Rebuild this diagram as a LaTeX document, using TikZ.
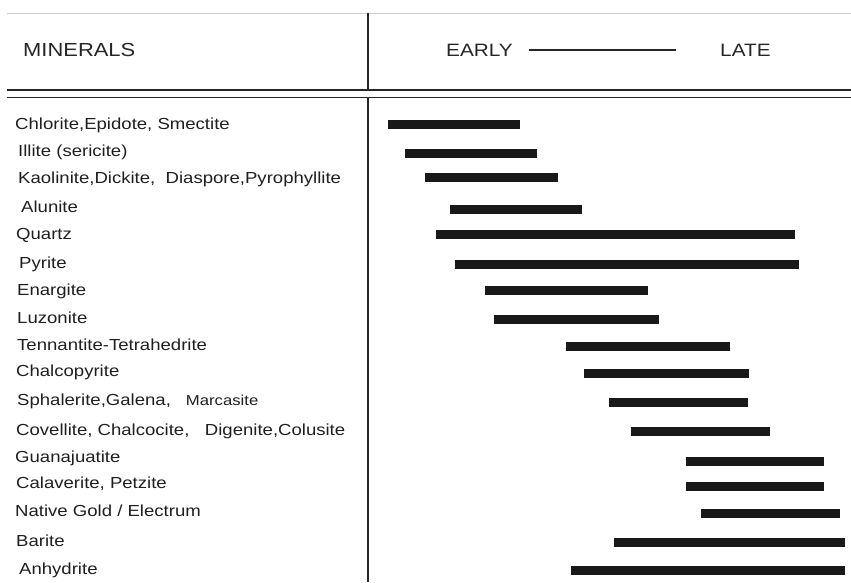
\documentclass[tikz,border=0pt]{standalone}
\usepackage{fontspec}
\setmainfont{Liberation Sans}[FakeStretch=1.16]
\begin{document}
\begin{tikzpicture}[x=1pt,y=-1pt,
  lbl/.style={anchor=base west,inner sep=0pt,font=\fontsize{16}{18}\selectfont,text=black!88},
  head/.style={anchor=base west,inner sep=0pt,font=\fontsize{17.9}{20}\selectfont,text=black!85},
  rule/.style={line width=1.8pt,black!85},
  bar/.style={fill=black!90}]
\useasboundingbox (0,0) rectangle (851,582);
\draw[black!20] (7,13)--(851,13);
\draw[rule] (368,13)--(368,90);
\draw[rule] (368,97.5)--(368,582);
\draw[rule] (7,90)--(851,90);
\draw[rule] (7,97.5)--(851,97.5);
\node[head,font=\fontsize{18.9}{20}\selectfont] (minerals) at (23,56) {MINERALS};
\node[head] (early) at (446,56) {EARLY};
\node[head] (late) at (720,56) {LATE};
\draw[line width=1.6pt,black!85] (early.east) ++(16,0) -- ++(147,0);
\node[lbl] (chlorite) at (15,129) {Chlorite,Epidote, Smectite};
\node[lbl] (illite) at (18,156) {Illite (sericite)};
\node[lbl] (kaolinite) at (18,183) {Kaolinite,Dickite,\ \ Diaspore,Pyrophyllite};
\node[lbl] (alunite) at (21,212) {Alunite};
\node[lbl] (quartz) at (16,239) {Quartz};
\node[lbl] (pyrite) at (19,268) {Pyrite};
\node[lbl] (enargite) at (17,295) {Enargite};
\node[lbl] (luzonite) at (17,323) {Luzonite};
\node[lbl] (tennantite) at (17,350) {Tennantite-Tetrahedrite};
\node[lbl] (chalcopyrite) at (16,376) {Chalcopyrite};
\node[lbl] (sphalerite) at (17,405) {Sphalerite,Galena,\hspace{15pt}{\fontsize{14.4}{16}\selectfont Marcasite}};
\node[lbl] (covellite) at (16,435) {Covellite, Chalcocite,\ \ \ Digenite,Colusite};
\node[lbl] (guanajuatite) at (15,462) {Guanajuatite};
\node[lbl] (calaverite) at (16,488) {Calaverite, Petzite};
\node[lbl] (gold) at (15,516) {Native Gold / Electrum};
\node[lbl] (barite) at (16,546) {Barite};
\node[lbl] (anhydrite) at (19,574) {Anhydrite};
\fill[bar] (388,120) rectangle (520,129);
\fill[bar] (405,149) rectangle (537,158);
\fill[bar] (425,173) rectangle (558,182);
\fill[bar] (450,205) rectangle (582,214);
\fill[bar] (436,230) rectangle (795,239);
\fill[bar] (455,260) rectangle (799,269);
\fill[bar] (485,286) rectangle (648,295);
\fill[bar] (494,315) rectangle (659,324);
\fill[bar] (566,342) rectangle (730,351);
\fill[bar] (584,369) rectangle (749,378);
\fill[bar] (609,398) rectangle (748,407);
\fill[bar] (631,427) rectangle (770,436);
\fill[bar] (686,457) rectangle (824,466);
\fill[bar] (686,482) rectangle (824,491);
\fill[bar] (701,509) rectangle (840,518);
\fill[bar] (614,538) rectangle (845,547);
\fill[bar] (571,566) rectangle (845,575);
\end{tikzpicture}
\end{document}
